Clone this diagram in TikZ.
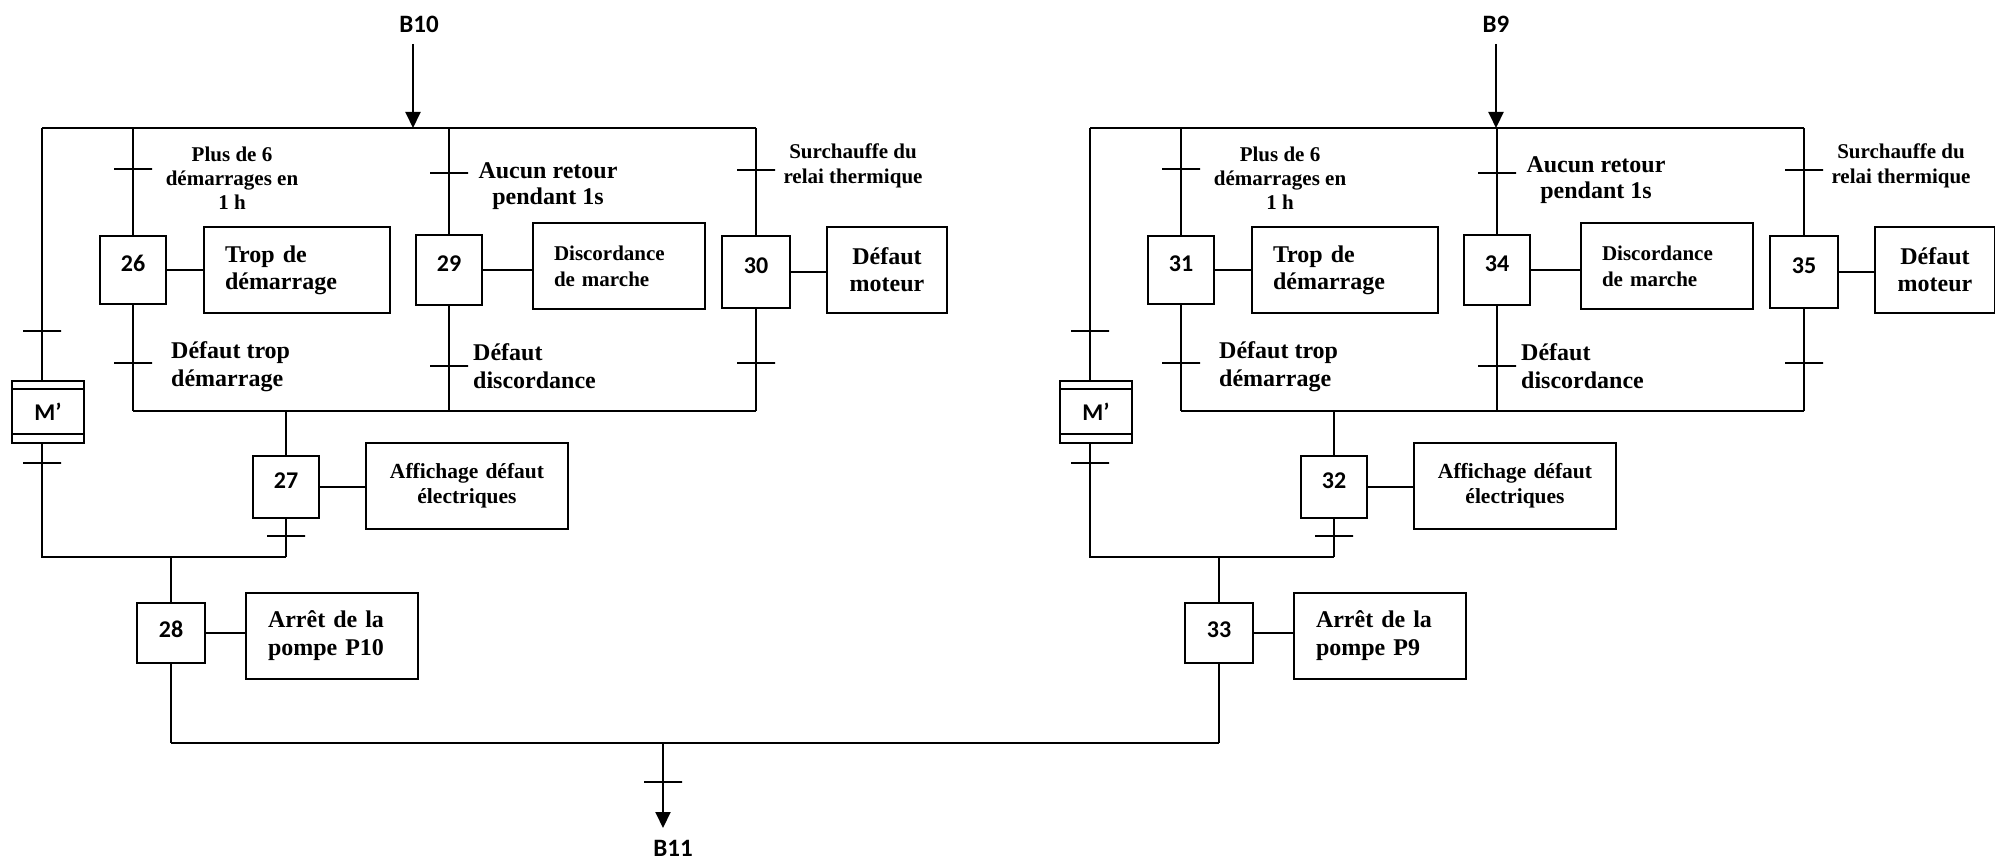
\documentclass[tikz,border=0pt]{standalone}
\usepackage{fontspec}
\setmainfont{Liberation Serif}
\newfontfamily\calib{Carlito}
\usetikzlibrary{arrows.meta}
\tikzset{
  ln/.style={line width=2pt},
  fs/.style 2 args={font=\bfseries\fontsize{#1}{#2}\selectfont},
  etape/.style={draw,line width=2pt,minimum width=66pt,minimum height=68pt,inner sep=0pt,
    text height=16pt,text depth=14pt,font=\calib\bfseries\fontsize{24}{24}\selectfont},
  act/.style={draw,line width=2pt,minimum height=86pt,inner ysep=0pt,font=\bfseries},
  recept/.style={inner sep=0pt,font=\bfseries},
  barre/.style={draw,line width=2pt,minimum width=38pt,minimum height=0pt,inner sep=0pt},
  bus/.style={inner sep=0pt,font=\calib\bfseries\fontsize{25}{25}\selectfont},
  arr/.style={line width=2pt,-{Triangle[length=16pt,width=15pt]}},
}
\begin{document}
\begin{tikzpicture}[x=1pt,y=-1pt]
  \useasboundingbox (0,0) rectangle (1995,861);
  \foreach \dx/\sA/\sB/\sC/\sD/\sE/\bin/\lx/\arx/\ay/\pump in
    {0/26/29/30/27/28/B10/419/413/186/P10,1048/31/34/35/32/33/B9/448/448/180/P9}
  {
  \begin{scope}[xshift=\dx]
    \node[bus] (in\sA) at (\lx,24) {\bin};
    \coordinate (ia\sA) at (\arx,44);
    \coordinate (ib\sA) at (\arx,128);
    \coordinate (tl\sA) at (42,128);
    \coordinate (tr\sA) at (756,128);
    \coordinate (bl\sA) at (133,411);
    \coordinate (br\sA) at (756,411);
    \coordinate (ml\sA) at (42,557);
    \coordinate (mr\sA) at (286,557);
    \coordinate (f\sA) at (171,743);

    \node[etape] (s\sA) at (133,270) {\sA};
    \node[etape,minimum height=70pt] (s\sB) at (449,270) {\sB};
    \node[etape,minimum width=68pt,minimum height=72pt] (s\sC) at (756,272) {\sC};
    \node[etape,minimum height=62pt] (s\sD) at (286,487) {\sD};
    \node[etape,minimum width=68pt,minimum height=60pt,text depth=8pt] (s\sE) at (171,633) {\sE};
    \node[etape,minimum width=72pt,minimum height=62pt,text depth=0pt] (m\sA) at (48,412) {M’};

    \node[act,fs={24}{27},text width=144pt,inner xsep=21pt,align=left] (a\sA) at (297,270) {Trop de\\démarrage};
    \node[act,fs={21}{26},text width=130pt,inner xsep=21pt,align=left] (a\sB) at (619,266) {Discordance\\de marche};
    \node[act,fs={24}{27},text width=110pt,inner xsep=5pt,align=center] (a\sC) at (887,270) {Défaut\\moteur};
    \node[act,fs={21.5}{25},text width=182pt,inner xsep=10pt,align=center] (a\sD) at (467,486) {Affichage défaut\\électriques};
    \node[act,fs={24}{28},text width=128pt,inner xsep=22pt,align=left] (a\sE) at (332,636) {Arrêt de la\\pompe \pump};

    \node[recept,fs={21}{24},align=center] (ra\sA) at (232,178) {Plus de 6\\démarrages en\\1 h};
    \node[recept,fs={24}{26},align=center] (ra\sB) at (548,\ay) {Aucun retour\\pendant 1s};
    \node[recept,fs={21}{25},align=center] (ra\sC) at (853,166) {Surchauffe du\\relai thermique};
    \node[recept,fs={24}{28},align=left,anchor=west] (rb\sA) at (171,367) {Défaut trop\\démarrage};
    \node[recept,fs={24}{28},align=left,anchor=west] (rb\sB) at (473,366) {Défaut\\discordance};

    \node[barre] (ta\sA) at (133,169) {};
    \node[barre] (tb\sA) at (133,363) {};
    \node[barre] (ta\sB) at (449,173) {};
    \node[barre] (tb\sB) at (449,366) {};
    \node[barre] (ta\sC) at (756,170) {};
    \node[barre] (tb\sC) at (756,363) {};
    \node[barre] (td\sA) at (286,536) {};
    \node[barre] (tm\sA) at (42,331) {};
    \node[barre] (tn\sA) at (42,463) {};

    \draw[arr] (ia\sA) -- (ib\sA);
    \draw[ln] (tl\sA) -- (tr\sA);
    \draw[ln] (bl\sA) -- (br\sA);
    \draw[ln] (tl\sA -| s\sA) -- (s\sA) -- (bl\sA);
    \draw[ln] (tl\sA -| s\sB) -- (s\sB) -- (s\sB |- bl\sA);
    \draw[ln] (tr\sA) -- (s\sC) -- (br\sA);
    \draw[ln] (s\sD |- bl\sA) -- (s\sD) -- (mr\sA);
    \draw[ln] (tl\sA) -- (tl\sA |- m\sA.north);
    \draw[ln] (tl\sA |- m\sA.south) -- (ml\sA) -- (mr\sA);
    \draw[ln] (s\sE |- ml\sA) -- (s\sE) -- (f\sA);
    \draw[ln] ([yshift=-9pt]m\sA.north west) -- ([yshift=-9pt]m\sA.north east);
    \draw[ln] ([yshift=10pt]m\sA.south west) -- ([yshift=10pt]m\sA.south east);
    \foreach \p in {\sA,\sB,\sC,\sD,\sE}
      \draw[ln] (s\p.east) -- (s\p.east -| a\p.west);
  \end{scope}
  }
  \draw[ln] (f26) -- (f31);
  \coordinate (oa) at (663,743);
  \coordinate (ob) at (663,828);
  \node[barre] (to) at (663,782) {};
  \draw[arr] (oa) -- (ob);
  \node[bus] (out) at (673,848) {B11};
\end{tikzpicture}
\end{document}
